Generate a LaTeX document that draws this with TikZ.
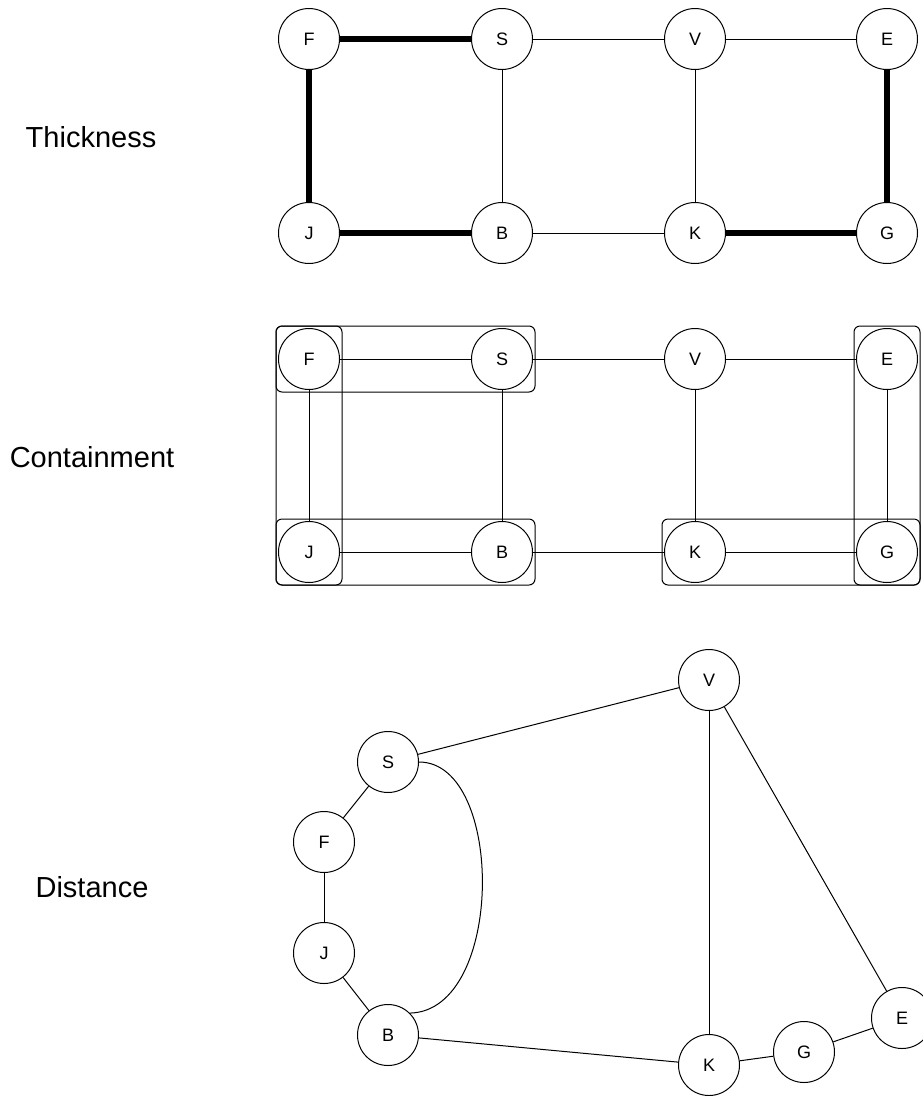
\documentclass[tikz,border=0pt]{standalone}
\usepackage{fontspec}
\setmainfont{Liberation Sans}
\usetikzlibrary{fit,backgrounds}
\tikzset{
  vtx/.style={circle, draw, fill=white, minimum size=61pt, inner sep=0pt, line width=1pt, font=\fontsize{18}{21}\selectfont},
  edge/.style={line width=1pt},
  thick edge/.style={line width=6pt},
  grp/.style={draw, rounded corners=6pt, inner sep=2pt, line width=1pt},
  lbl/.style={anchor=base, font=\fontsize{29}{34}\selectfont}
}
\begin{document}
\begin{tikzpicture}[x=1pt, y=-1pt]
\useasboundingbox (0,0) rectangle (923,1096);

% labels
\node[lbl] (lt) at (91,147) {Thickness};
\node[lbl] (lc) at (92,467) {Containment};
\node[lbl] (ld) at (92,897) {Distance};

% ---- Thickness ----
\node[vtx] (tF) at (309,39) {F};
\node[vtx] (tS) at (502,39) {S};
\node[vtx] (tV) at (695,39) {V};
\node[vtx] (tE) at (887,39) {E};
\node[vtx] (tJ) at (309,233) {J};
\node[vtx] (tB) at (502,233) {B};
\node[vtx] (tK) at (695,233) {K};
\node[vtx] (tG) at (887,233) {G};
\draw[thick edge] (tF) -- (tS);
\draw[edge] (tS) -- (tV);
\draw[edge] (tV) -- (tE);
\draw[thick edge] (tF) -- (tJ);
\draw[edge] (tS) -- (tB);
\draw[edge] (tV) -- (tK);
\draw[thick edge] (tE) -- (tG);
\draw[thick edge] (tJ) -- (tB);
\draw[edge] (tB) -- (tK);
\draw[thick edge] (tK) -- (tG);

% ---- Containment ----
\node[vtx] (cF) at (309,359) {F};
\node[vtx] (cS) at (502,359) {S};
\node[vtx] (cV) at (695,359) {V};
\node[vtx] (cE) at (887,359) {E};
\node[vtx] (cJ) at (309,552) {J};
\node[vtx] (cB) at (502,552) {B};
\node[vtx] (cK) at (695,552) {K};
\node[vtx] (cG) at (887,552) {G};
\draw[edge] (cF) -- (cS);
\draw[edge] (cS) -- (cV);
\draw[edge] (cV) -- (cE);
\draw[edge] (cF) -- (cJ);
\draw[edge] (cS) -- (cB);
\draw[edge] (cV) -- (cK);
\draw[edge] (cE) -- (cG);
\draw[edge] (cJ) -- (cB);
\draw[edge] (cB) -- (cK);
\draw[edge] (cK) -- (cG);
\node[grp, fit=(cF)(cJ)] (gFJ) {};
\node[grp, fit=(cF)(cS)] (gFS) {};
\node[grp, fit=(cJ)(cB)] (gJB) {};
\node[grp, fit=(cE)(cG)] (gEG) {};
\node[grp, fit=(cK)(cG)] (gKG) {};

% ---- Distance ----
\node[vtx] (dS) at (388,762) {S};
\node[vtx] (dF) at (324,842) {F};
\node[vtx] (dJ) at (324,953) {J};
\node[vtx] (dB) at (388,1035) {B};
\node[vtx] (dV) at (709,680) {V};
\node[vtx] (dK) at (709,1065) {K};
\node[vtx] (dG) at (804,1052) {G};
\node[vtx] (dE) at (902,1018) {E};
\draw[edge] (dS) -- (dV);
\draw[edge] (dS) -- (dF);
\draw[edge] (dF) -- (dJ);
\draw[edge] (dJ) -- (dB);
\draw[edge] (dS.east) .. controls (505,762) and (505,1011) .. (dB.45);
\draw[edge] (dB) -- (dK);
\draw[edge] (dV) -- (dK);
\draw[edge] (dV) -- (dE);
\draw[edge] (dK) -- (dG);
\draw[edge] (dG) -- (dE);
\end{tikzpicture}
\end{document}
